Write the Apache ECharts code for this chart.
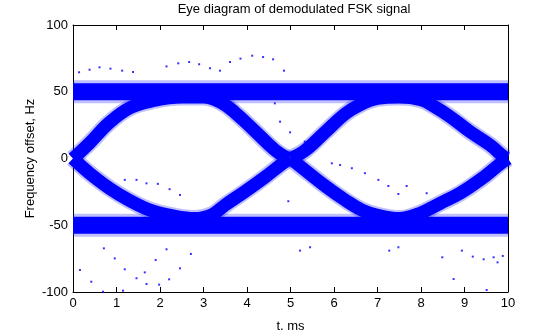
<!DOCTYPE html>
<html>
<head>
<meta charset="utf-8">
<script src="https://cdn.jsdelivr.net/npm/echarts@6/dist/echarts.min.js"></script>
<style>html,body{margin:0;padding:0;background:#fff}#c{width:560px;height:330px}</style>
</head>
<body>
<div id="c"></div>
<script>
// ---- data ----
const xTicks = [0,1,2,3,4,5,6,7,8,9,10];
const yTicks = [-100,-50,0,50,100];

const upperBandT = [0, 2, 4, 6, 8, 10];
const upperBandV = [50, 50, 50, 50, 50, 50];
const lowerBandT = [0, 2, 4, 6, 8, 10];
const lowerBandV = [-50, -50, -50, -50, -50, -50];

// eye-opening arcs (curve centres)
const arcUpLeftT = [0, 0.38, 0.84, 1.31, 1.8, 2.5, 3.0, 3.4, 3.72, 4.18, 4.64, 4.95];
const arcUpLeftV = [0, 11.6, 27, 38, 43, 46, 46, 42, 34.5, 20.6, 6.4, 0];
const arcLowLeftT = [0, 0.38, 0.84, 1.31, 1.77, 2.3, 2.8, 3.2, 3.49, 3.95, 4.41, 4.87, 5.0];
const arcLowLeftV = [0, -11, -22.3, -31.6, -38.6, -43, -45, -42, -35, -24.8, -14, -2.4, 0];
const arcUpRightT = [5.0, 5.33, 5.79, 6.25, 6.55, 7.0, 7.5, 8.0, 8.3, 8.67, 9.13, 9.59, 9.9, 10];
const arcUpRightV = [0, 5.9, 19.6, 33.3, 39.5, 45, 46, 44, 39, 31.3, 20, 10, 1.4, 0];
const arcLowRightT = [5.0, 5.33, 5.79, 6.25, 6.64, 7.0, 7.5, 7.98, 8.44, 8.9, 9.36, 9.82, 10];
const arcLowRightV = [0, -8.6, -20.4, -31, -38.6, -42.5, -45, -41, -33.6, -26, -16, -4, 0];

// isolated outlier dots
const outT = [0.14,0.38,0.61,0.86,1.13,1.38,2.15,2.42,2.67,2.9,3.15,3.38,3.61,3.85,4.12,4.37,4.6,4.85,
  0.16,0.42,0.71,0.96,1.19,1.46,1.65,1.69,1.9,1.98,2.21,2.15,2.46,2.71,1.15,0.69,
  1.19,1.46,1.69,1.95,2.22,2.46,
  4.95,5.22,5.45,5.95,6.14,6.41,6.71,7.02,7.25,7.48,7.67,8.13,7.48,8.75,8.49,8.94,9.19,9.44,9.67,9.76,9.88,9.51,7.27,
  4.64,4.76,4.99,5.33];
const outV = [64.6,66.5,68.3,67.3,65.8,64.8,69,71.3,72.3,70.6,67.6,65.8,72.3,74.8,77,76,74.3,65.8,
  -83.5,-92.3,-67.3,-74.8,-83,-89.7,-85.3,-94,-76,-94.5,-90.5,-68,-82.3,-71.5,-99,-99.8,
  -16,-16,-18.6,-19,-23,-27.3,
  -32,-69,-66.5,-3.6,-4.9,-7.3,-11,-16,-20.6,-26.6,-20.6,-26,-66.5,-90.3,-74,-69,-73.5,-75.5,-74,-77.8,-73,-98.5,-69,
  41.3,27.6,19.6,12.6];

// ---- build chart ----
const BLUE = '#0000ff';
const FONT = 'Liberation Sans, Arial, sans-serif';
function pts(t, v){ return t.map((x,i)=>[x, v[i]]); }

const curves = [
  {t: upperBandT, v: upperBandV, w: 17, halo: 23, smooth: false},
  {t: lowerBandT, v: lowerBandV, w: 17, halo: 23, smooth: false},
  {t: arcUpLeftT, v: arcUpLeftV, w: 13, halo: 17, smooth: true},
  {t: arcLowLeftT, v: arcLowLeftV, w: 13, halo: 17, smooth: true},
  {t: arcUpRightT, v: arcUpRightV, w: 13, halo: 17, smooth: true},
  {t: arcLowRightT, v: arcLowRightV, w: 13, halo: 17, smooth: true}
];

const series = [];
curves.forEach(c => {
  series.push({type:'line', data: pts(c.t, c.v), smooth: c.smooth ? 0.4 : false, showSymbol:false, silent:true,
    lineStyle:{color: BLUE, width: c.halo, opacity: 0.25, cap:'butt'}, z: 1, animation:false});
});
curves.forEach(c => {
  series.push({type:'line', data: pts(c.t, c.v), smooth: c.smooth ? 0.4 : false, showSymbol:false, silent:true,
    lineStyle:{color: BLUE, width: c.w, opacity: 1, cap:'butt'}, z: 2, animation:false});
});
series.push({type:'scatter', data: pts(outT, outV), symbol:'rect', symbolSize:2,
  itemStyle:{color: BLUE}, z: 3, animation:false, silent:true});

const axisCommon = {
  type:'value',
  axisLine:{show:true, onZero:false, lineStyle:{color:'#000', width:1}},
  axisTick:{show:true, inside:true, length:5, lineStyle:{color:'#000', width:1}},
  splitLine:{show:false}
};

const chart = echarts.init(document.getElementById('c'), null, {renderer:'canvas'});
chart.setOption({
  animation:false,
  backgroundColor:'#fff',
  title:{text:'Eye diagram of demodulated FSK signal', left:289, textAlign:'center', top:0, padding:[3,5],
    textStyle:{fontFamily:FONT, fontSize:13, fontWeight:'normal', color:'#000'}},
  grid:{left:73, right:52, top:25, bottom:38, containLabel:false, outerBoundsMode:'none'},
  xAxis:[
    Object.assign({}, axisCommon, {position:'bottom', min:0, max:10, interval:1,
      axisLabel:{color:'#000', fontFamily:FONT, fontSize:13, margin:5},
      name:'t, ms', nameLocation:'middle', nameGap:28, nameMoveOverlap:false,
      nameTextStyle:{color:'#000', fontFamily:FONT, fontSize:13}}),
    Object.assign({}, axisCommon, {position:'top', min:0, max:10, interval:1, axisLabel:{show:false}})
  ],
  yAxis:[
    Object.assign({}, axisCommon, {position:'left', min:-100, max:100, interval:50,
      axisLabel:{color:'#000', fontFamily:FONT, fontSize:13, margin:5},
      name:'Frequency offset, Hz', nameLocation:'middle', nameGap:36, nameRotate:90, nameMoveOverlap:false,
      nameTextStyle:{color:'#000', fontFamily:FONT, fontSize:13}}),
    Object.assign({}, axisCommon, {position:'right', min:-100, max:100, interval:50, axisLabel:{show:false}})
  ],
  series: series
});
</script>
</body>
</html>
